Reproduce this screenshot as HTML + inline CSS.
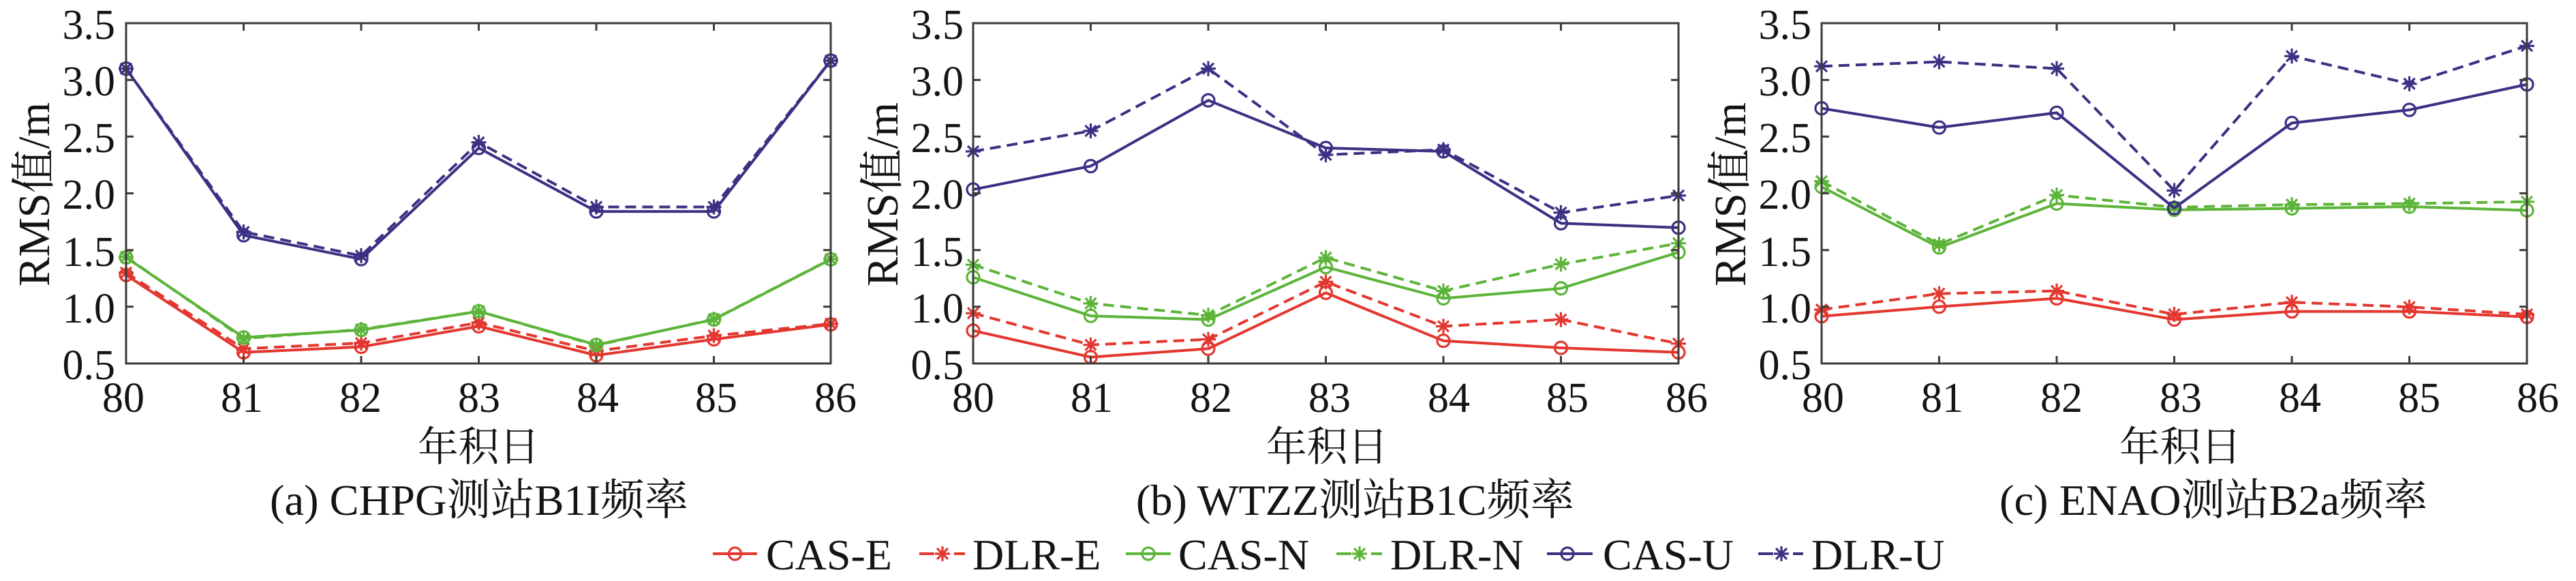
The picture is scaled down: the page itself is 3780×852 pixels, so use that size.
<!DOCTYPE html>
<html>
<head>
<meta charset="utf-8">
<style>
html,body{margin:0;padding:0;background:#fff;}
svg{display:block;}
text{font-family:"Liberation Serif","Noto Serif CJK SC",serif;fill:#141414;}
</style>
</head>
<body>
<svg width="3780" height="852" viewBox="0 0 3780 852" xmlns="http://www.w3.org/2000/svg">
<defs>
  <circle id="c" r="9" fill="none"/>
  <path id="s" d="M-11 0H11M0 -11V11M-8 -8L8 8M-8 8L8 -8" fill="none"/>
</defs>

<!-- ================= PANEL 1 ================= -->
<g transform="translate(185,0)">
  <!-- series -->
  <g fill="none" stroke-width="4" stroke-linejoin="round">
    <g stroke="#e3372f">
      <polyline points="0,403.3 172.5,516.7 345,508.6 517.5,478.5 690,521 862.5,497.6 1034,475.8"/>
      <g stroke-width="3.2"><use href="#c" x="0" y="403.3"/><use href="#c" x="172.5" y="516.7"/><use href="#c" x="345" y="508.6"/><use href="#c" x="517.5" y="478.5"/><use href="#c" x="690" y="521"/><use href="#c" x="862.5" y="497.6"/><use href="#c" x="1034" y="475.8"/></g>
    </g>
    <g stroke="#e3372f">
      <polyline stroke-dasharray="16 9" points="0,399.9 172.5,511.4 345,503.1 517.5,473.1 690,514.7 862.5,492.3 1034,474.8"/>
      <g stroke-width="3.2"><use href="#s" x="0" y="399.9"/><use href="#s" x="172.5" y="511.4"/><use href="#s" x="345" y="503.1"/><use href="#s" x="517.5" y="473.1"/><use href="#s" x="690" y="514.7"/><use href="#s" x="862.5" y="492.3"/><use href="#s" x="1034" y="474.8"/></g>
    </g>
    <g stroke="#5db43a">
      <polyline points="0,377.5 172.5,494.8 345,483.9 517.5,456.5 690,505.7 862.5,468.6 1034,380.3"/>
      <g stroke-width="3.2"><use href="#c" x="0" y="377.5"/><use href="#c" x="172.5" y="494.8"/><use href="#c" x="345" y="483.9"/><use href="#c" x="517.5" y="456.5"/><use href="#c" x="690" y="505.7"/><use href="#c" x="862.5" y="468.6"/><use href="#c" x="1034" y="380.3"/></g>
    </g>
    <g stroke="#5db43a">
      <polyline stroke-dasharray="16 9" points="0,376.7 172.5,496.4 345,483.1 517.5,456.5 690,506.4 862.5,468.1 1034,380"/>
      <g stroke-width="3.2"><use href="#s" x="0" y="376.7"/><use href="#s" x="172.5" y="496.4"/><use href="#s" x="345" y="483.1"/><use href="#s" x="517.5" y="456.5"/><use href="#s" x="690" y="506.4"/><use href="#s" x="862.5" y="468.1"/><use href="#s" x="1034" y="380"/></g>
    </g>
    <g stroke="#3b3184">
      <polyline points="0,100.6 172.5,345 345,380 517.5,217 690,310.1 862.5,310.1 1034,88.9"/>
      <g stroke-width="3.2"><use href="#c" x="0" y="100.6"/><use href="#c" x="172.5" y="345"/><use href="#c" x="345" y="380"/><use href="#c" x="517.5" y="217"/><use href="#c" x="690" y="310.1"/><use href="#c" x="862.5" y="310.1"/><use href="#c" x="1034" y="88.9"/></g>
    </g>
    <g stroke="#3b3184">
      <polyline stroke-dasharray="16 9" points="0,100.6 172.5,340.1 345,375 517.5,208.7 690,303.5 862.5,303.5 1034,88.9"/>
      <g stroke-width="3.2"><use href="#s" x="0" y="100.6"/><use href="#s" x="172.5" y="340.1"/><use href="#s" x="345" y="375"/><use href="#s" x="517.5" y="208.7"/><use href="#s" x="690" y="303.5"/><use href="#s" x="862.5" y="303.5"/><use href="#s" x="1034" y="88.9"/></g>
    </g>
  </g>
  <!-- frame & ticks -->
  <g stroke="#3d3a39" stroke-width="3" fill="none">
    <rect x="0" y="34" width="1034" height="499"/>
    <path d="M0 117.2h11M0 200.3h11M0 283.5h11M0 366.7h11M0 449.8h11M1034 117.2h-11M1034 200.3h-11M1034 283.5h-11M1034 366.7h-11M1034 449.8h-11M172.5 533v-11M345 533v-11M517.5 533v-11M690 533v-11M862.5 533v-11M172.5 34v11M345 34v11M517.5 34v11M690 34v11M862.5 34v11"/>
  </g>
  <g font-size="62" text-anchor="end">
    <text x="-16" y="57">3.5</text><text x="-16" y="140">3.0</text><text x="-16" y="223">2.5</text><text x="-16" y="306">2.0</text><text x="-16" y="390">1.5</text><text x="-16" y="473">1.0</text><text x="-16" y="556">0.5</text>
  </g>
  <g font-size="62" text-anchor="middle">
    <text x="-4" y="604">80</text><text x="170" y="604">81</text><text x="344" y="604">82</text><text x="518" y="604">83</text><text x="692" y="604">84</text><text x="866" y="604">85</text><text x="1041" y="604">86</text>
  </g>
</g>
<text transform="translate(72,285) rotate(-90)" font-size="66" text-anchor="middle" textLength="270" lengthAdjust="spacingAndGlyphs">RMS值/m</text>
<text x="613" y="676" font-size="60" textLength="179" lengthAdjust="spacingAndGlyphs">年积日</text>
<text x="396" y="755" font-size="64" textLength="614" lengthAdjust="spacingAndGlyphs">(a) CHPG测站B1I频率</text>

<!-- ================= PANEL 2 ================= -->
<g transform="translate(1428,0)">
  <g fill="none" stroke-width="4" stroke-linejoin="round">
    <g stroke="#e3372f">
      <polyline points="0,484.8 172.5,523.7 345,511.4 517.5,429.4 690,499.7 862.5,510.1 1035,516.7"/>
      <g stroke-width="3.2"><use href="#c" x="0" y="484.8"/><use href="#c" x="172.5" y="523.7"/><use href="#c" x="345" y="511.4"/><use href="#c" x="517.5" y="429.4"/><use href="#c" x="690" y="499.7"/><use href="#c" x="862.5" y="510.1"/><use href="#c" x="1035" y="516.7"/></g>
    </g>
    <g stroke="#e3372f">
      <polyline stroke-dasharray="16 9" points="0,459.3 172.5,505.7 345,497.6 517.5,413.3 690,478.5 862.5,468.6 1035,503.9"/>
      <g stroke-width="3.2"><use href="#s" x="0" y="459.3"/><use href="#s" x="172.5" y="505.7"/><use href="#s" x="345" y="497.6"/><use href="#s" x="517.5" y="413.3"/><use href="#s" x="690" y="478.5"/><use href="#s" x="862.5" y="468.6"/><use href="#s" x="1035" y="503.9"/></g>
    </g>
    <g stroke="#5db43a">
      <polyline points="0,406.6 172.5,463.2 345,468.6 517.5,391.6 690,437.5 862.5,422.9 1035,370"/>
      <g stroke-width="3.2"><use href="#c" x="0" y="406.6"/><use href="#c" x="172.5" y="463.2"/><use href="#c" x="345" y="468.6"/><use href="#c" x="517.5" y="391.6"/><use href="#c" x="690" y="437.5"/><use href="#c" x="862.5" y="422.9"/><use href="#c" x="1035" y="370"/></g>
    </g>
    <g stroke="#5db43a">
      <polyline stroke-dasharray="16 9" points="0,388.3 172.5,444.9 345,462.2 517.5,377.7 690,426.6 862.5,387.5 1035,356.7"/>
      <g stroke-width="3.2"><use href="#s" x="0" y="388.3"/><use href="#s" x="172.5" y="444.9"/><use href="#s" x="345" y="462.2"/><use href="#s" x="517.5" y="377.7"/><use href="#s" x="690" y="426.6"/><use href="#s" x="862.5" y="387.5"/><use href="#s" x="1035" y="356.7"/></g>
    </g>
    <g stroke="#3b3184">
      <polyline points="0,277.9 172.5,243.6 345,147.1 517.5,217 690,222 862.5,327.4 1035,333.9"/>
      <g stroke-width="3.2"><use href="#c" x="0" y="277.9"/><use href="#c" x="172.5" y="243.6"/><use href="#c" x="345" y="147.1"/><use href="#c" x="517.5" y="217"/><use href="#c" x="690" y="222"/><use href="#c" x="862.5" y="327.4"/><use href="#c" x="1035" y="333.9"/></g>
    </g>
    <g stroke="#3b3184">
      <polyline stroke-dasharray="16 9" points="0,222 172.5,192 345,100.6 517.5,227 690,219.5 862.5,311.8 1035,286.8"/>
      <g stroke-width="3.2"><use href="#s" x="0" y="222"/><use href="#s" x="172.5" y="192"/><use href="#s" x="345" y="100.6"/><use href="#s" x="517.5" y="227"/><use href="#s" x="690" y="219.5"/><use href="#s" x="862.5" y="311.8"/><use href="#s" x="1035" y="286.8"/></g>
    </g>
  </g>
  <g stroke="#3d3a39" stroke-width="3" fill="none">
    <rect x="0" y="34" width="1035" height="499"/>
    <path d="M0 117.2h11M0 200.3h11M0 283.5h11M0 366.7h11M0 449.8h11M1035 117.2h-11M1035 200.3h-11M1035 283.5h-11M1035 366.7h-11M1035 449.8h-11M172.5 533v-11M345 533v-11M517.5 533v-11M690 533v-11M862.5 533v-11M172.5 34v11M345 34v11M517.5 34v11M690 34v11M862.5 34v11"/>
  </g>
  <g font-size="62" text-anchor="end">
    <text x="-14" y="57">3.5</text><text x="-14" y="140">3.0</text><text x="-14" y="223">2.5</text><text x="-14" y="306">2.0</text><text x="-14" y="390">1.5</text><text x="-14" y="473">1.0</text><text x="-14" y="556">0.5</text>
  </g>
  <g font-size="62" text-anchor="middle">
    <text x="0" y="604">80</text><text x="174" y="604">81</text><text x="349" y="604">82</text><text x="523" y="604">83</text><text x="698" y="604">84</text><text x="872" y="604">85</text><text x="1047" y="604">86</text>
  </g>
</g>
<text transform="translate(1317,285) rotate(-90)" font-size="66" text-anchor="middle" textLength="270" lengthAdjust="spacingAndGlyphs">RMS值/m</text>
<text x="1858" y="676" font-size="60" textLength="179" lengthAdjust="spacingAndGlyphs">年积日</text>
<text x="1667" y="755" font-size="64" textLength="643" lengthAdjust="spacingAndGlyphs">(b) WTZZ测站B1C频率</text>

<!-- ================= PANEL 3 ================= -->
<g transform="translate(2673,0)">
  <g fill="none" stroke-width="4" stroke-linejoin="round">
    <g stroke="#e3372f">
      <polyline points="0,463.8 172.5,449.8 345,437.5 517.5,468.6 690,456.7 862.5,456.7 1035,464.8"/>
      <g stroke-width="3.2"><use href="#c" x="0" y="463.8"/><use href="#c" x="172.5" y="449.8"/><use href="#c" x="345" y="437.5"/><use href="#c" x="517.5" y="468.6"/><use href="#c" x="690" y="456.7"/><use href="#c" x="862.5" y="456.7"/><use href="#c" x="1035" y="464.8"/></g>
    </g>
    <g stroke="#e3372f">
      <polyline stroke-dasharray="16 9" points="0,454 172.5,430.6 345,426.6 517.5,461 690,443.2 862.5,450.2 1035,461"/>
      <g stroke-width="3.2"><use href="#s" x="0" y="454"/><use href="#s" x="172.5" y="430.6"/><use href="#s" x="345" y="426.6"/><use href="#s" x="517.5" y="461"/><use href="#s" x="690" y="443.2"/><use href="#s" x="862.5" y="450.2"/><use href="#s" x="1035" y="461"/></g>
    </g>
    <g stroke="#5db43a">
      <polyline points="0,274 172.5,362.9 345,298.5 517.5,307.8 690,305.6 862.5,303 1035,308.5"/>
      <g stroke-width="3.2"><use href="#c" x="0" y="274"/><use href="#c" x="172.5" y="362.9"/><use href="#c" x="345" y="298.5"/><use href="#c" x="517.5" y="307.8"/><use href="#c" x="690" y="305.6"/><use href="#c" x="862.5" y="303"/><use href="#c" x="1035" y="308.5"/></g>
    </g>
    <g stroke="#5db43a">
      <polyline stroke-dasharray="16 9" points="0,265.7 172.5,358.4 345,286 517.5,304 690,300.1 862.5,298.5 1035,295.8"/>
      <g stroke-width="3.2"><use href="#s" x="0" y="265.7"/><use href="#s" x="172.5" y="358.4"/><use href="#s" x="345" y="286"/><use href="#s" x="517.5" y="304"/><use href="#s" x="690" y="300.1"/><use href="#s" x="862.5" y="298.5"/><use href="#s" x="1035" y="295.8"/></g>
    </g>
    <g stroke="#3b3184">
      <polyline points="0,158.8 172.5,187 345,165.4 517.5,305.1 690,180.4 862.5,161.1 1035,123.8"/>
      <g stroke-width="3.2"><use href="#c" x="0" y="158.8"/><use href="#c" x="172.5" y="187"/><use href="#c" x="345" y="165.4"/><use href="#c" x="517.5" y="305.1"/><use href="#c" x="690" y="180.4"/><use href="#c" x="862.5" y="161.1"/><use href="#c" x="1035" y="123.8"/></g>
    </g>
    <g stroke="#3b3184">
      <polyline stroke-dasharray="16 9" points="0,97.2 172.5,90.6 345,100.6 517.5,279.4 690,82.3 862.5,122.8 1035,67.3"/>
      <g stroke-width="3.2"><use href="#s" x="0" y="97.2"/><use href="#s" x="172.5" y="90.6"/><use href="#s" x="345" y="100.6"/><use href="#s" x="517.5" y="279.4"/><use href="#s" x="690" y="82.3"/><use href="#s" x="862.5" y="122.8"/><use href="#s" x="1035" y="67.3"/></g>
    </g>
  </g>
  <g stroke="#3d3a39" stroke-width="3" fill="none">
    <rect x="0" y="34" width="1035" height="499"/>
    <path d="M0 117.2h11M0 200.3h11M0 283.5h11M0 366.7h11M0 449.8h11M1035 117.2h-11M1035 200.3h-11M1035 283.5h-11M1035 366.7h-11M1035 449.8h-11M172.5 533v-11M345 533v-11M517.5 533v-11M690 533v-11M862.5 533v-11M172.5 34v11M345 34v11M517.5 34v11M690 34v11M862.5 34v11"/>
  </g>
  <g font-size="62" text-anchor="end">
    <text x="-15" y="57">3.5</text><text x="-15" y="140">3.0</text><text x="-15" y="223">2.5</text><text x="-15" y="306">2.0</text><text x="-15" y="390">1.5</text><text x="-15" y="473">1.0</text><text x="-15" y="556">0.5</text>
  </g>
  <g font-size="62" text-anchor="middle">
    <text x="2" y="604">80</text><text x="177" y="604">81</text><text x="352" y="604">82</text><text x="527" y="604">83</text><text x="702" y="604">84</text><text x="877" y="604">85</text><text x="1051" y="604">86</text>
  </g>
</g>
<text transform="translate(2561,285) rotate(-90)" font-size="66" text-anchor="middle" textLength="270" lengthAdjust="spacingAndGlyphs">RMS值/m</text>
<text x="3110" y="676" font-size="60" textLength="179" lengthAdjust="spacingAndGlyphs">年积日</text>
<text x="2934" y="755" font-size="64" textLength="628" lengthAdjust="spacingAndGlyphs">(c) ENAO测站B2a频率</text>

<!-- ================= LEGEND ================= -->
<g fill="none" stroke-width="4">
  <g stroke="#e3372f">
    <line x1="1046" y1="812" x2="1111" y2="812"/>
    <use href="#c" x="1078.5" y="812" stroke-width="3.2"/>
    <line x1="1349" y1="812" x2="1371" y2="812"/>
    <line x1="1400" y1="812" x2="1416" y2="812"/>
    <use href="#s" x="1383" y="812" stroke-width="3.2"/>
  </g>
  <g stroke="#5db43a">
    <line x1="1652" y1="812" x2="1718" y2="812"/>
    <use href="#c" x="1685" y="812" stroke-width="3.2"/>
    <line x1="1961" y1="812" x2="1983" y2="812"/>
    <line x1="2012" y1="812" x2="2028" y2="812"/>
    <use href="#s" x="1995" y="812" stroke-width="3.2"/>
  </g>
  <g stroke="#3b3184">
    <line x1="2270" y1="812" x2="2337" y2="812"/>
    <use href="#c" x="2300" y="812" stroke-width="3.2"/>
    <line x1="2580" y1="812" x2="2602" y2="812"/>
    <line x1="2631" y1="812" x2="2646" y2="812"/>
    <use href="#s" x="2614" y="812" stroke-width="3.2"/>
  </g>
</g>
<g font-size="64">
  <text x="1124" y="835">CAS-E</text>
  <text x="1427" y="835">DLR-E</text>
  <text x="1729" y="835">CAS-N</text>
  <text x="2040" y="835">DLR-N</text>
  <text x="2352" y="835">CAS-U</text>
  <text x="2658" y="835">DLR-U</text>
</g>
</svg>
</body>
</html>
